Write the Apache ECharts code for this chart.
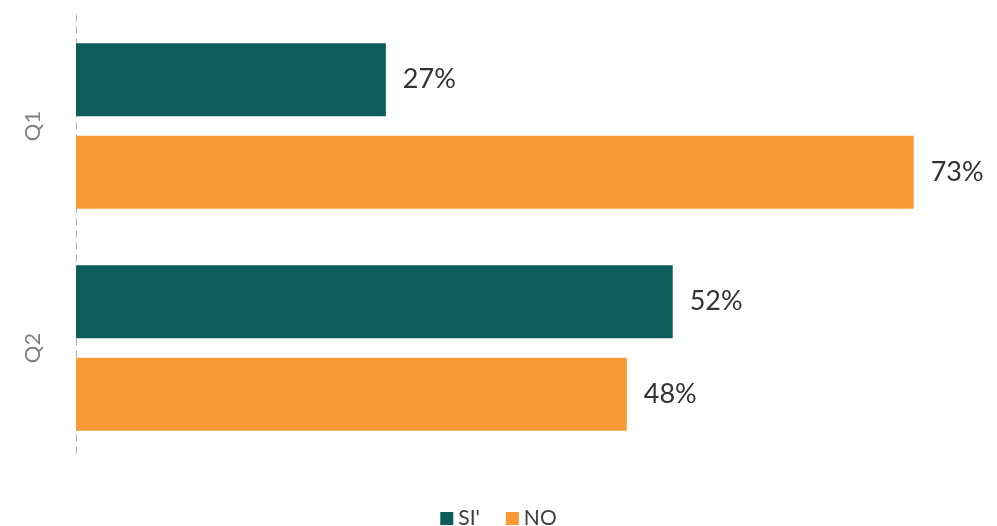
<!DOCTYPE html>
<html>
<head>
<meta charset="utf-8">
<script src="https://cdn.jsdelivr.net/npm/echarts@6/dist/echarts.min.js"></script>
<style>
  html, body { margin: 0; padding: 0; background: #fff; }
  #chart { width: 997px; height: 526px; }
</style>
</head>
<body>
<div id="chart"></div>
<script>
// Survey answers per question, in percent
const categories = ['Q1', 'Q2'];
const seriesNames = ["SI'", 'NO'];
const siValues = [27, 52];
const noValues = [73, 48];

const colors = ['#0b5e5a', '#fa9a34'];
const fontFamily = 'Lato, "Open Sans", sans-serif';

const chart = echarts.init(document.getElementById('chart'));

const labelStyle = {
  show: true,
  position: 'right',
  distance: 17,
  formatter: p => p.value + '%',
  color: '#333',
  fontSize: 27,
  fontFamily
};

chart.setOption({
  animation: false,
  color: colors,
  grid: { left: 76, top: 15, width: 918, height: 444, containLabel: false },
  legend: {
    top: 503,
    left: 'center',
    itemWidth: 13,
    itemHeight: 13,
    itemGap: 26,
    icon: 'rect',
    textStyle: { color: '#404040', fontSize: 21, fontFamily },
    data: seriesNames
  },
  xAxis: {
    type: 'value',
    min: 0,
    max: 80,
    show: false
  },
  yAxis: {
    type: 'category',
    inverse: true,
    data: categories,
    axisLine: { show: true, lineStyle: { color: '#9fb2c6', type: [6, 6], width: 1 } },
    axisTick: { show: false },
    axisLabel: { rotate: 90, margin: 32, color: '#808080', fontSize: 22, fontFamily }
  },
  series: [
    {
      name: seriesNames[0],
      type: 'bar',
      data: siValues,
      barWidth: 73,
      barGap: '27%',
      label: labelStyle
    },
    {
      name: seriesNames[1],
      type: 'bar',
      data: noValues,
      barWidth: 73,
      label: labelStyle
    }
  ]
});
</script>
</body>
</html>
